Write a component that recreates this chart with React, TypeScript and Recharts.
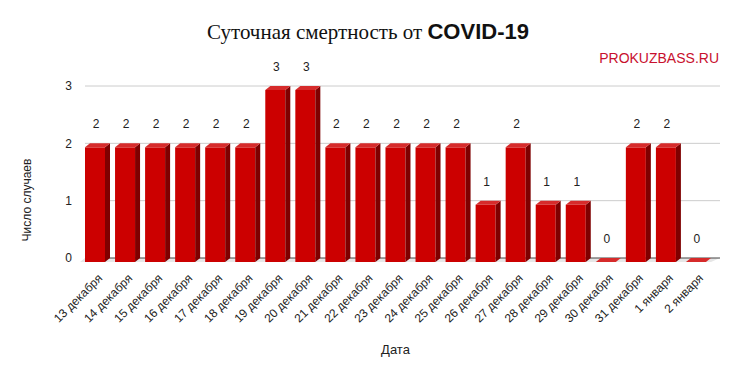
import React from 'react'
import { BarChart, Bar, XAxis, YAxis, CartesianGrid, LabelList } from 'recharts'

const dates = [
  '13 декабря', '14 декабря', '15 декабря', '16 декабря', '17 декабря', '18 декабря',
  '19 декабря', '20 декабря', '21 декабря', '22 декабря', '23 декабря', '24 декабря',
  '25 декабря', '26 декабря', '27 декабря', '28 декабря', '29 декабря', '30 декабря',
  '31 декабря', '1 января', '2 января',
]
const deaths = [2, 2, 2, 2, 2, 2, 3, 3, 2, 2, 2, 2, 2, 1, 2, 1, 1, 0, 2, 2, 0]
const yTicks = [0, 1, 2, 3]

const data = dates.map((date, i) => ({ date, deaths: deaths[i] }))

// 3d offset of the back wall
const DX = 5
const DY = 4

const FRONT = '#cc0000'
const SIDE = '#7f0000'
const TOP = '#d62b2b'
const FONT = "'Liberation Sans', Arial, sans-serif"

const Bar3D = (props: any) => {
  const { x, y, width, height } = props
  if (height <= 0.5) {
    const b = y + height
    return (
      <polygon
        points={`${x},${b} ${x + width},${b} ${x + width + DX},${b - DY} ${x + DX},${b - DY}`}
        fill={TOP}
      />
    )
  }
  return (
    <g>
      <rect x={x} y={y} width={width} height={height} fill={FRONT} />
      <polygon
        points={`${x + width},${y} ${x + width + DX},${y - DY} ${x + width + DX},${y + height - DY} ${x + width},${y + height}`}
        fill={SIDE}
      />
      <polygon
        points={`${x},${y} ${x + width},${y} ${x + width + DX},${y - DY} ${x + DX},${y - DY}`}
        fill={TOP}
      />
    </g>
  )
}

const GridLine = (props: any) => {
  const { x1, y1, x2, y, height } = props
  const isBase = Math.abs(y1 - (y + height)) < 1
  if (isBase) {
    return (
      <g>
        <polygon
          points={`${x1},${y1} ${x2},${y1} ${x2 + DX + 4},${y1 - DY} ${x1 + DX},${y1 - DY}`}
          fill="#e6e6e6"
        />
        <line x1={x1 + DX} y1={y1 - DY} x2={x2 + DX + 4} y2={y1 - DY} stroke="#444" strokeWidth={1} />
      </g>
    )
  }
  return <line x1={x1 + DX} y1={y1 - DY} x2={x2 + DX + 4} y2={y1 - DY} stroke="#cccccc" strokeWidth={1} />
}

const XTick = ({ x, y, payload }: any) => {
  const ax = x + 8
  const ay = y + 9
  return (
    <text
      x={ax}
      y={ay}
      transform={`rotate(-45, ${ax}, ${ay})`}
      textAnchor="end"
      fontSize={12}
      fill="#222"
      fontFamily={FONT}
    >
      {payload.value}
    </text>
  )
}

const YTick = ({ y, payload }: any) => (
  <text x={72} y={y - DY} dy="0.35em" textAnchor="end" fontSize={12} fill="#222" fontFamily={FONT}>
    {payload.value}
  </text>
)

const ValueLabel = (props: any) => {
  const { x, y, width, value } = props
  return (
    <text x={x + width / 2 + 1} y={y - 19} textAnchor="middle" fontSize={12} fill="#222" fontFamily={FONT}>
      {value}
    </text>
  )
}

const YTitle = (props: any) => {
  const { viewBox } = props
  const cx = viewBox.x + 27
  const cy = viewBox.y + viewBox.height / 2 + 24
  return (
    <text x={cx} y={cy} transform={`rotate(-90, ${cx}, ${cy})`} textAnchor="middle" dy="0.35em"
      fontSize={12} fill="#222" fontFamily={FONT}>
      Число случаев
    </text>
  )
}

export default function App() {
  return (
    <div style={{ position: 'absolute', left: 0, top: 0, width: 738, height: 374, background: '#fff' }}>
      <svg width={738} height={374} style={{ position: 'absolute', left: 0, top: 0 }}>
        <text x={368} y={39} textAnchor="middle" fill="#111">
          <tspan fontFamily="'Liberation Serif', 'Times New Roman', serif" fontSize={21}>Суточная смертность от </tspan>
          <tspan fontFamily={FONT} fontSize={22} fontWeight="bold">COVID-19</tspan>
        </text>
        <text x={719} y={63} textAnchor="end" fill="#c8102e" fontSize={14} fontFamily={FONT}>
          PROKUZBASS.RU
        </text>
      </svg>
      <div style={{ position: 'absolute', left: 0, top: 0 }}>
        <BarChart width={738} height={374} data={data} barSize={20}
          margin={{ top: 90, right: 27, left: 0, bottom: 0 }}>
          <CartesianGrid vertical={false} horizontal={(p: any) => <GridLine {...p} />} />
          <XAxis dataKey="date" interval={0} height={112} axisLine={false} tickLine={false}
            tick={<XTick />}
            label={{ value: 'Дата', position: 'insideBottom', offset: 20, fontSize: 13, fill: '#222',
              fontFamily: FONT }} />
          <YAxis width={80} domain={[0, 3]} ticks={yTicks} axisLine={false} tickLine={false}
            tick={<YTick />} label={<YTitle />} />
          <Bar dataKey="deaths" shape={<Bar3D />} isAnimationActive={false}>
            <LabelList dataKey="deaths" content={<ValueLabel />} />
          </Bar>
        </BarChart>
      </div>
    </div>
  )
}
